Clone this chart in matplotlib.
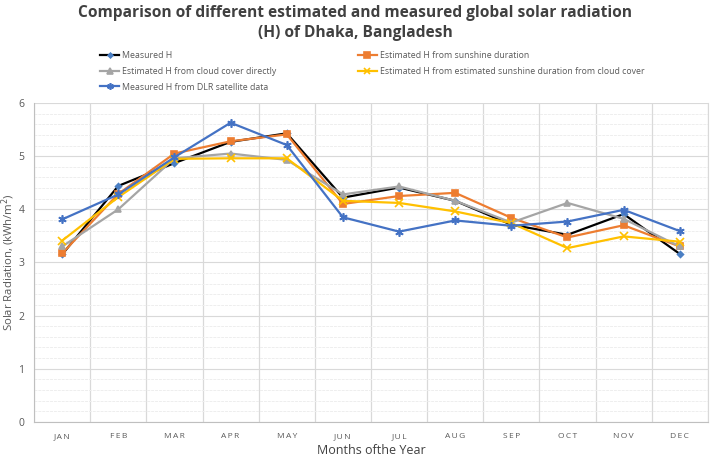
import matplotlib.pyplot as plt
from matplotlib.ticker import MultipleLocator

months = ["JAN", "FEB", "MAR", "APR", "MAY", "JUN", "JUL", "AUG", "SEP", "OCT", "NOV", "DEC"]

measured_h = [3.15, 4.44, 4.87, 5.27, 5.43, 4.22, 4.41, 4.16, 3.71, 3.52, 3.91, 3.16]
est_sunshine = [3.17, 4.29, 5.05, 5.28, 5.41, 4.10, 4.25, 4.31, 3.84, 3.47, 3.70, 3.30]
est_cloud = [3.30, 4.00, 4.96, 5.05, 4.93, 4.28, 4.43, 4.16, 3.75, 4.12, 3.82, 3.30]
est_sunshine_cloud = [3.41, 4.23, 4.95, 4.96, 4.96, 4.16, 4.12, 3.96, 3.74, 3.27, 3.49, 3.39]
dlr_satellite = [3.81, 4.28, 4.98, 5.63, 5.21, 3.85, 3.58, 3.79, 3.69, 3.77, 3.99, 3.59]

plt.rcParams["font.family"] = ["Open Sans", "DejaVu Sans"]

fig = plt.figure(figsize=(7.1, 4.58), dpi=100)
ax = fig.add_axes([0.048, 0.079, 0.949, 0.696])

x = list(range(len(months)))

series = [
    (measured_h, "Measured H", "black", "D", "#4a7fc4", 3),
    (est_sunshine, "Estimated H from sunshine duration", "#ed7d31", "s", "#ed7d31", 5),
    (est_cloud, "Estimated H from cloud cover directly", "#a5a5a5", "^", "#a5a5a5", 5),
    (est_sunshine_cloud, "Estimated H from estimated sunshine duration from cloud cover", "#ffc000", "x", "#ffc000", 6),
    (dlr_satellite, "Measured H from DLR satellite data", "#4472c4", (6, 2, 0), "#4472c4", 6),
]

lines = []
for vals, label, color, marker, mcolor, ms in series:
    ln, = ax.plot(x, vals, color=color, lw=1.6, marker=marker, ms=ms,
                  markerfacecolor=mcolor, markeredgecolor=mcolor, mew=1.2, label=label)
    lines.append(ln)

ax.set_xlim(-0.5, 11.5)
ax.set_ylim(0, 6)
ax.set_xticks(x)
ax.set_xticklabels(["\u2009".join(m) for m in months])
ax.yaxis.set_major_locator(MultipleLocator(1))
ax.yaxis.set_minor_locator(MultipleLocator(0.2))
ax.set_xticks([i + 0.5 for i in range(-1, 12)], minor=True)

ax.grid(which="major", axis="y", color="#d9d9d9", lw=0.8)
ax.grid(which="minor", axis="y", color="#eeeeee", lw=0.7, ls=(0, (3, 1)))
ax.grid(which="minor", axis="x", color="#d9d9d9", lw=0.9)
ax.set_axisbelow(True)

ax.spines["top"].set_visible(False)
ax.spines["right"].set_color("#d9d9d9")
ax.spines["left"].set_color("#bfbfbf")
ax.spines["bottom"].set_color("#bfbfbf")

ax.tick_params(axis="both", which="both", length=0)
ax.tick_params(axis="x", labelsize=6, colors="#595959", pad=8)
ax.tick_params(axis="y", labelsize=7.5, colors="#595959", pad=7)

ax.set_xlabel("Months ofthe Year", fontsize=9, color="#404040", labelpad=3)
ax.set_ylabel("Solar Radiation, (kWh/m$^2$)", fontsize=8.2, color="#595959")
ax.yaxis.set_label_coords(-0.026, 0.5)

fig.suptitle("Comparison of different estimated and measured global solar radiation\n(H) of Dhaka, Bangladesh",
             fontsize=11.2, fontweight="bold", color="#404040", y=0.99, linespacing=1.35)

# legend filled column-wise, so order handles to read row-wise
order = [0, 2, 4, 1, 3]
fig.legend([lines[i] for i in order], [lines[i].get_label() for i in order],
           loc="upper left", bbox_to_anchor=(0.13, 0.905), ncol=2, frameon=False,
           fontsize=6.3, labelcolor="#595959", columnspacing=9.3, handlelength=2.2,
           handletextpad=0.3, labelspacing=0.75, markerscale=0.8)

fig.savefig("out.png", dpi=100)
